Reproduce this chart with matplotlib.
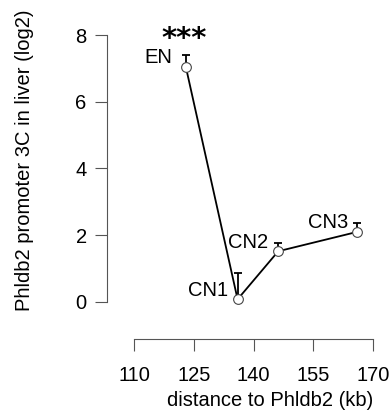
import matplotlib.pyplot as plt
import numpy as np

plt.rcParams['font.family'] = ['Liberation Sans', 'DejaVu Sans']

# data
names = ['EN', 'CN1', 'CN2', 'CN3']
distance_kb = [123.0, 136.0, 146.2, 166.0]
log2_3c = [7.05, 0.08, 1.52, 2.1]
err_up = [0.35, 0.78, 0.24, 0.27]
x_ticks = [110, 125, 140, 155, 170]
y_ticks = [0, 2, 4, 6, 8]

W, H = 392, 413
fs = 14.5
fig = plt.figure(figsize=(W / 100, H / 100), dpi=100)
# axes box in pixels: left 117, right 385, top 25, bottom 320
ax = fig.add_axes([117 / W, 1 - 320 / H, (385 - 117) / W, (320 - 25) / H])

# upper error bars only, with a small cap on top
tops = np.array(log2_3c) + np.array(err_up)
ax.vlines(distance_kb, log2_3c, tops, color='black', lw=1.3, zorder=1)
ax.plot(distance_kb, tops, '_', color='black', ms=6, mew=1.3, zorder=1)

ax.plot(distance_kb, log2_3c, color='black', lw=1.3, zorder=2)
ax.plot(distance_kb, log2_3c, 'o', mfc='white', mec='#444444', ms=7, mew=0.8, zorder=3)

# point labels, offsets in points (right edge / vertical centre)
offsets = {'EN': (-10, 6.5), 'CN1': (-7, 6.5), 'CN2': (-7, 6), 'CN3': (-6.5, 6.5)}
for n, x, y in zip(names, distance_kb, log2_3c):
    ax.annotate(n, (x, y), xytext=offsets[n], textcoords='offset points',
                ha='right', va='center', fontsize=fs)
ax.annotate('***', (distance_kb[0], log2_3c[0]), xytext=(-1, 14.5), textcoords='offset points',
            ha='center', va='baseline', fontsize=21, fontweight='bold', family='DejaVu Sans')

ax.set_xlim(105.73, 173.0)
ax.set_ylim(-0.54, 8.30)
ax.set_xticks(x_ticks)
ax.set_yticks(y_ticks)
ax.tick_params(labelsize=fs, length=8.6, color='#555555', width=0.8)
ax.tick_params(axis='x', pad=11)
ax.tick_params(axis='y', pad=6)

for s in ['top', 'right']:
    ax.spines[s].set_visible(False)
ax.spines['left'].set_position(('outward', 7.2))
ax.spines['bottom'].set_position(('outward', 13.7))
ax.spines['left'].set_bounds(0, 8)
ax.spines['bottom'].set_bounds(110, 170)
for s in ['left', 'bottom']:
    ax.spines[s].set_color('#555555')
    ax.spines[s].set_linewidth(0.8)

fig.text(270 / W, 1 - 400 / H, 'distance to Phldb2 (kb)', ha='center', va='center', fontsize=fs)
fig.text(25 / W, 1 - 160 / H, 'Phldb2 promoter 3C in liver (log2)', ha='center', va='center',
         rotation=90, fontsize=fs)

fig.savefig('out.png', dpi=100)
